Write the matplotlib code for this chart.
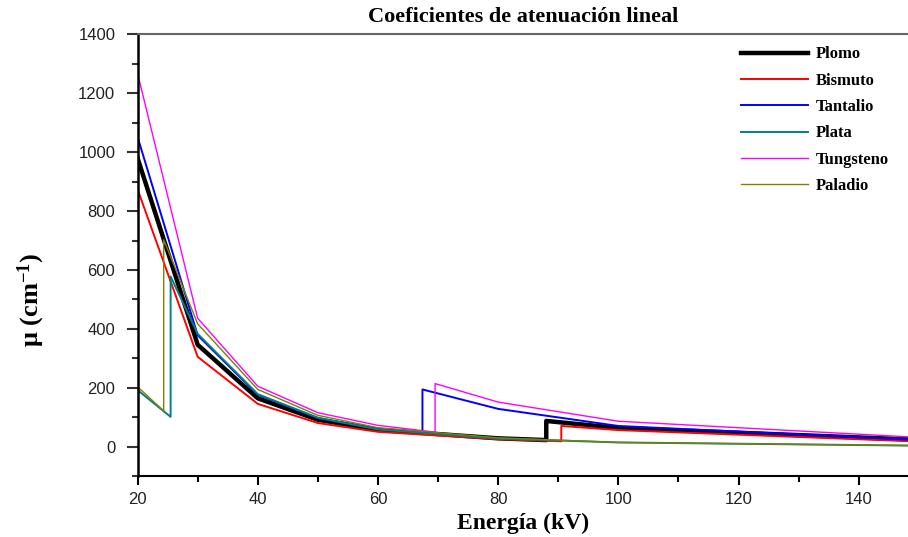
import numpy as np
import matplotlib
matplotlib.use("Agg")
import matplotlib.pyplot as plt
from matplotlib.ticker import MultipleLocator

# =========================
# Datos: coeficientes de atenuación lineal (cm^-1) vs energía (keV)
# =========================
E_plomo = [20, 30, 40, 50, 60, 80, 88.0, 88.0, 100, 150]
mu_plomo = [980, 346, 164, 91, 57, 28, 22, 87, 63, 23]

E_bismuto = [20, 30, 40, 50, 60, 80, 90.5, 90.5, 100, 150]
mu_bismuto = [874, 305, 145, 80, 50, 25, 18, 70, 56, 17]

E_tantalio = [20, 30, 40, 50, 60, 67.4, 67.4, 80, 100, 150]
mu_tantalio = [1052, 378, 176, 97, 60, 48, 194, 128, 70, 22]

E_plata = [20, 25.5, 25.5, 30, 40, 50, 60, 80, 100, 150]
mu_plata = [192, 101, 578, 383, 178, 98, 58, 27, 14, 3]

E_tungsteno = [20, 30, 40, 50, 60, 69.5, 69.5, 80, 100, 150]
mu_tungsteno = [1268, 436, 205, 115, 72, 49, 214, 151, 86, 31]

E_paladio = [20, 24.35, 24.35, 30, 40, 50, 60, 80, 100, 150]
mu_paladio = [203, 121, 703, 417, 194, 106, 64, 30, 14, 3]

series = [
    ("Plomo", E_plomo, mu_plomo, "#000000", 3.2),
    ("Bismuto", E_bismuto, mu_bismuto, "#ff0000", 1.4),
    ("Tantalio", E_tantalio, mu_tantalio, "#0000ff", 1.4),
    ("Plata", E_plata, mu_plata, "#008080", 1.4),
    ("Tungsteno", E_tungsteno, mu_tungsteno, "#ff00ff", 1.0),
    ("Paladio", E_paladio, mu_paladio, "#808000", 1.0),
]

plt.rcParams["mathtext.fontset"] = "custom"
plt.rcParams["mathtext.rm"] = "Liberation Serif:bold"
plt.rcParams["mathtext.default"] = "rm"

fig = plt.figure(figsize=(9.08, 5.37), dpi=100)
ax = fig.add_axes([0.1515, 0.1136, 0.8605, 0.8222])

for name, E, mu, color, lw in series:
    ax.plot(E, mu, color=color, lw=lw, label=name)

ax.set_xlim(20, 150)
ax.set_ylim(-100, 1400)
ax.xaxis.set_major_locator(MultipleLocator(20))
ax.xaxis.set_minor_locator(MultipleLocator(10))
ax.yaxis.set_major_locator(MultipleLocator(200))
ax.yaxis.set_minor_locator(MultipleLocator(100))

ax.tick_params(axis="x", which="major", direction="out", length=6.5, width=1.5, pad=5,
               labelsize=12, colors="#000000", labelcolor="#222222")
ax.tick_params(axis="x", which="minor", direction="out", length=4.3, width=1.5)
ax.tick_params(axis="y", which="major", direction="out", length=8, width=1.5, pad=8,
               labelsize=12, colors="#333333", labelcolor="#222222")
ax.tick_params(axis="y", which="minor", direction="out", length=4.3, width=1.5,
               colors="#333333")
for lab in ax.get_xticklabels() + ax.get_yticklabels():
    lab.set_fontfamily("Liberation Sans")

ax.spines["left"].set_linewidth(1.8)
ax.spines["bottom"].set_linewidth(1.5)
ax.spines["top"].set_linewidth(1.5)
ax.spines["top"].set_color("#666666")
ax.spines["right"].set_visible(False)

fig.text(0.576, 0.968, "Coeficientes de atenuación lineal", ha="center", va="center",
         fontsize=16, fontweight="bold", family="Liberation Serif")
fig.text(0.576, 0.026, "Energía (kV)", ha="center", va="center",
         fontsize=17, fontweight="bold", family="Liberation Serif")
fig.text(0.035, 0.441, r"μ (cm$^{-1}$)", ha="center", va="center", rotation=90,
         fontsize=19, fontweight="bold", family="Liberation Serif")

leg = ax.legend(loc="upper left", bbox_to_anchor=(733 / 908, 1 - 38 / 537),
                bbox_transform=fig.transFigure, frameon=False, borderpad=0,
                handlelength=4.0, handletextpad=0.45, labelspacing=0.62,
                prop={"family": "Liberation Serif", "weight": "bold", "size": 12})

fig.savefig("out.png", dpi=100)
